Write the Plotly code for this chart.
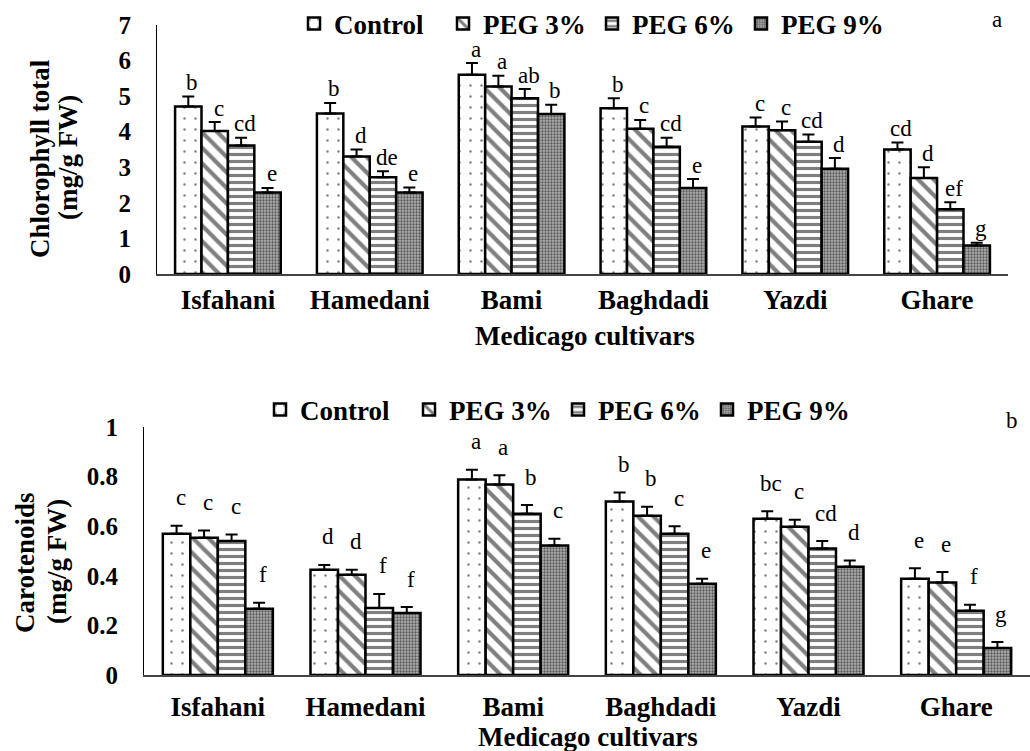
import plotly.graph_objects as go

cultivars = ["Isfahani", "Hamedani", "Bami", "Baghdadi", "Yazdi", "Ghare"]
treatments = ["Control", "PEG 3%", "PEG 6%", "PEG 9%"]

# Chlorophyll total (mg/g FW)
chl_control = [4.71, 4.51, 5.60, 4.66, 4.15, 3.50]
chl_peg3 = [4.02, 3.30, 5.27, 4.08, 4.04, 2.70]
chl_peg6 = [3.61, 2.72, 4.94, 3.58, 3.72, 1.82]
chl_peg9 = [2.29, 2.29, 4.50, 2.42, 2.96, 0.80]
chl_err_control = [0.28, 0.30, 0.33, 0.28, 0.25, 0.20]
chl_err_peg3 = [0.25, 0.20, 0.30, 0.25, 0.25, 0.30]
chl_err_peg6 = [0.22, 0.17, 0.26, 0.25, 0.20, 0.20]
chl_err_peg9 = [0.13, 0.14, 0.26, 0.25, 0.30, 0.08]
chl_letters_control = ["b", "b", "a", "b", "c", "cd"]
chl_letters_peg3 = ["c", "d", "a", "c", "c", "d"]
chl_letters_peg6 = ["cd", "de", "ab", "cd", "cd", "ef"]
chl_letters_peg9 = ["e", "e", "b", "e", "d", "g"]

# Carotenoids (mg/g FW)
car_control = [0.570, 0.424, 0.788, 0.700, 0.630, 0.388]
car_peg3 = [0.553, 0.404, 0.768, 0.642, 0.598, 0.373]
car_peg6 = [0.540, 0.270, 0.650, 0.570, 0.510, 0.259]
car_peg9 = [0.267, 0.250, 0.522, 0.368, 0.436, 0.109]
car_err_control = [0.032, 0.020, 0.040, 0.036, 0.030, 0.042]
car_err_peg3 = [0.030, 0.020, 0.037, 0.036, 0.028, 0.042]
car_err_peg6 = [0.027, 0.057, 0.035, 0.030, 0.030, 0.024]
car_err_peg9 = [0.024, 0.024, 0.027, 0.020, 0.026, 0.024]
car_letters_control = ["c", "d", "a", "b", "bc", "e"]
car_letters_peg3 = ["c", "d", "a", "b", "c", "e"]
car_letters_peg6 = ["c", "f", "b", "c", "cd", "f"]
car_letters_peg9 = ["f", "f", "c", "e", "d", "g"]

chl_vals = [chl_control, chl_peg3, chl_peg6, chl_peg9]
chl_errs = [chl_err_control, chl_err_peg3, chl_err_peg6, chl_err_peg9]
chl_lets = [chl_letters_control, chl_letters_peg3, chl_letters_peg6, chl_letters_peg9]
car_vals = [car_control, car_peg3, car_peg6, car_peg9]
car_errs = [car_err_control, car_err_peg3, car_err_peg6, car_err_peg9]
car_lets = [car_letters_control, car_letters_peg3, car_letters_peg6, car_letters_peg9]

FONT = "Liberation Serif"
W, H = 1030, 751
BARGAP = 0.255

patterns = [
    dict(shape=".", size=11, solidity=0.04, fgcolor="black", bgcolor="white"),
    dict(shape="\\", size=11, solidity=0.38, fgcolor="black", bgcolor="white"),
    dict(shape="-", size=7, solidity=0.45, fgcolor="black", bgcolor="white"),
    dict(shape=".", size=3, solidity=0.45, fgcolor="black", bgcolor="#b0b0b0"),
]

xpos = list(range(len(cultivars)))
fig = go.Figure()


def add_panel(vals, errs, xa, ya, legend, showleg):
    for j, name in enumerate(treatments):
        fig.add_trace(go.Bar(
            x=xpos, y=vals[j], name=name,
            marker=dict(color="white", line=dict(color="black", width=2.5),
                        pattern=patterns[j]),
            error_y=dict(type="data", array=errs[j], arrayminus=[0] * len(errs[j]),
                         symmetric=False, color="black", thickness=2, width=6),
            xaxis=xa, yaxis=ya, legend=legend, showlegend=showleg,
            hoverinfo="skip",
        ))


add_panel(chl_vals, chl_errs, "x", "y", "legend", True)
add_panel(car_vals, car_errs, "x2", "y2", "legend2", True)

# significance letters
bw = (1 - BARGAP) / len(treatments)
annotations = []
for vals, errs, lets, xr, yr, ysh in [
    (chl_vals, chl_errs, chl_lets, "x", "y", 14),
    (car_vals, car_errs, car_lets, "x2", "y2", 28),
]:
    for j in range(len(treatments)):
        for i in range(len(cultivars)):
            annotations.append(dict(
                x=i + (j - 1.5) * bw, y=vals[j][i] + errs[j][i], xref=xr, yref=yr,
                text=lets[j][i], showarrow=False, yshift=ysh, xshift=4,
                xanchor="center", yanchor="middle",
                font=dict(family=FONT, size=23, color="black"),
            ))

bold = dict(family=FONT, size=27, color="black", weight="bold")

# axis titles (two lines each, rotated)
for txt, xp, yp in [
    ("Chlorophyll total", 40, 159), ("(mg/g FW)", 68, 158),
    ("Carotenoids", 25, 563), ("(mg/g FW)", 57, 562),
]:
    annotations.append(dict(x=xp / W, y=1 - yp / H, xref="paper", yref="paper",
                            text=txt, textangle=-90, showarrow=False,
                            xanchor="center", yanchor="middle", font=bold))
for yp, xc in [(336, 585), (737, 588)]:
    annotations.append(dict(x=xc / W, y=1 - yp / H, xref="paper", yref="paper",
                            text="Medicago cultivars", showarrow=False,
                            xanchor="center", yanchor="middle", font=bold))
# panel letters
for txt, xp, yp in [("a", 997, 20), ("b", 1012, 420)]:
    annotations.append(dict(x=xp / W, y=1 - yp / H, xref="paper", yref="paper",
                            text=txt, showarrow=False, xanchor="center", yanchor="middle",
                            font=dict(family=FONT, size=23, color="black")))

xcommon = dict(tickmode="array", tickvals=xpos, ticktext=cultivars,
               range=[-0.5, len(cultivars) - 0.5], showline=True, linecolor="#444",
               linewidth=1.5, ticks="outside", tickcolor="rgba(0,0,0,0)",
               showgrid=False, zeroline=False, tickfont=bold, fixedrange=True,
               automargin=False)
ycommon = dict(showline=True, linecolor="black", linewidth=1, showgrid=False,
               zeroline=False, ticks="outside", tickcolor="rgba(0,0,0,0)", ticklen=20,
               automargin=False, fixedrange=True,
               tickfont=dict(family=FONT, size=25, color="black", weight="bold"))

legcommon = dict(orientation="h", xanchor="left", yanchor="middle",
                 font=dict(family=FONT, size=27, color="black", weight="bold"),
                 bgcolor="rgba(0,0,0,0)", borderwidth=0, itemwidth=30,
                 entrywidth=104, entrywidthmode="pixels", itemclick=False)

fig.update_layout(
    width=W, height=H,
    margin=dict(l=0, r=0, t=0, b=0, pad=0, autoexpand=False),
    paper_bgcolor="white", plot_bgcolor="white",
    barmode="group", bargap=BARGAP, bargroupgap=0,
    xaxis=dict(domain=[157 / W, 1008 / W], anchor="y", ticklen=1, **xcommon),
    yaxis=dict(domain=[1 - 274 / H, 1 - 25 / H], anchor="x", range=[0, 7], dtick=1,
               **ycommon),
    xaxis2=dict(domain=[144 / W, 1.0], anchor="y2", ticklen=7, **xcommon),
    yaxis2=dict(domain=[1 - 675 / H, 1 - 427 / H], anchor="x2", range=[0, 1],
                tickvals=[0, 0.2, 0.4, 0.6, 0.8, 1],
                ticktext=["0", "0.2", "0.4", "0.6", "0.8", "1"], **ycommon),
    legend=dict(x=294 / W, y=1 - 24 / H, **legcommon),
    legend2=dict(x=260 / W, y=1 - 410 / H, **legcommon),
    annotations=annotations,
    showlegend=True,
    hovermode=False,
)

fig.write_html(
    "out.html",
    config={"displayModeBar": False, "staticPlot": False},
    post_script="document.body.style.margin='0';document.body.style.overflow='hidden';",
)
